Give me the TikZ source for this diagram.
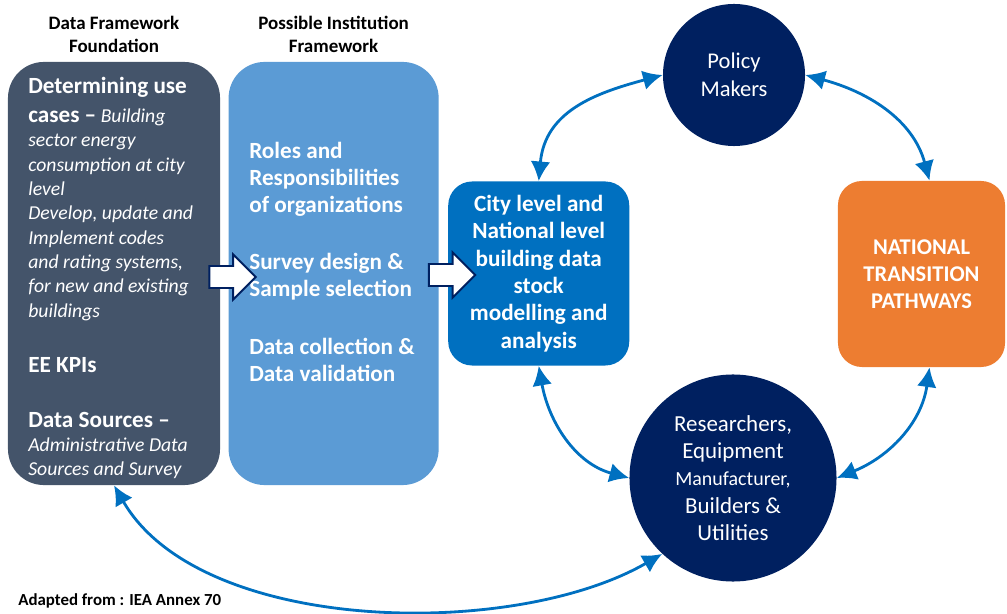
\documentclass[tikz,border=0pt]{standalone}
\usepackage{fontspec}
\setmainfont{Carlito}
\usepackage{xcolor}
\usetikzlibrary{arrows.meta, positioning, calc, shapes.arrows}
\definecolor{slate}{HTML}{44546A}
\definecolor{skyblue}{HTML}{5B9BD5}
\definecolor{cityblue}{HTML}{0070C0}
\definecolor{navy}{HTML}{002060}
\definecolor{orangebox}{HTML}{ED7D31}
\definecolor{linkblue}{HTML}{0070C0}
\newcommand{\headtxt}[1]{{\fontsize{16.5}{20}\selectfont\bfseries\upshape #1}}

\begin{document}
\begin{tikzpicture}[x=0.025cm,y=0.025cm,every node/.style={inner sep=0pt},
  panel/.style={rounded corners=0.9cm,minimum width=5.3cm,minimum height=10.575cm},
  roundbox/.style={rounded corners=0.6cm,text=white,align=center,
        font=\fontsize{16.5}{19.5}\selectfont\bfseries},
  disc/.style={circle,fill=navy,text=white,align=center},
  blockarrow/.style={single arrow,draw=navy,fill=white,line width=1.4pt,inner xsep=0pt,
        inner ysep=0.25cm,minimum height=1.16cm,single arrow head extend=0.29cm},
  link/.style={<->,>={Latex[length=14pt,width=14pt]},draw=linkblue,line width=2pt}]
  \useasboundingbox (0,0) rectangle (1007,613);

  \node[panel,fill=slate] (fdn) at (114,339.5) {};
  \node[panel,fill=skyblue,minimum width=5.25cm,right=0.2cm of fdn] (inst) {};
  \node[roundbox,fill=cityblue,minimum width=4.525cm,minimum height=4.6cm,
        right=0.225cm of inst] (city) {City level and\\National level\\building data\\stock\\modelling and\\analysis};
  \node[roundbox,fill=orangebox,minimum width=4.175cm,minimum height=4.65cm,
        font=\fontsize{16}{19.2}\selectfont\bfseries] (nat) at (921.5,339) {NATIONAL\\TRANSITION\\PATHWAYS};
  \node[disc,minimum size=3.55cm,font=\fontsize{16}{20}\selectfont] (policy) at (734,538) {Policy\\Makers};
  \node[disc,minimum size=5.175cm,font=\fontsize{16.3}{19.5}\selectfont] (res) at (733,135)
        {Researchers,\\Equipment\\{\fontsize{14.2}{19.5}\selectfont Manufacturer,}\\Builders \&\\Utilities};

  \node[align=center,font=\fontsize{13.5}{16.4}\selectfont\bfseries,above=0.22cm of fdn] (fdntitle) {Data Framework\\Foundation};
  \node[align=center,font=\fontsize{13.5}{16.4}\selectfont\bfseries,above=0.22cm of inst] (insttitle) {Possible Institution\\Framework};

  \node[anchor=north west,align=left,text=white,font=\fontsize{14}{17.3}\selectfont\itshape] (fdntext) at (28,536) {%
    \headtxt{Determining use}\\[3.3pt]
    \headtxt{cases --} Building\\
    sector energy\\
    consumption at city\\
    level\\
    Develop, update and\\
    Implement codes\\
    and rating systems,\\
    for new and existing\\
    buildings\\[21.8pt]
    \headtxt{EE KPIs}\\[21.8pt]
    \headtxt{Data Sources --}\\
    Administrative Data\\
    Sources and Survey};
  \node[anchor=north west,align=left,text=white,font=\fontsize{16.5}{19.2}\selectfont\bfseries] (insttext) at (249,471)
        {Roles and\\Responsibilities\\of organizations\\[21.5pt]Survey design \&\\Sample selection\\[21.5pt]Data collection \&\\Data validation};

  \node[blockarrow] (arrA) at (227,336) {};
  \node[blockarrow] (arrB) at (446.5,338) {};

  \draw[link] (city.north) to[out=85,in=195,looseness=1.1] (policy.west);
  \draw[link] (policy.east) to[out=-15,in=105] ([xshift=0.2cm]nat.north);
  \draw[link] (city.south) to[out=-80,in=165] (res.west);
  \draw[link] ([xshift=0.2cm]nat.south) to[out=-98,in=22] (res.east);
  \draw[link] (fdn.south) to[out=-60,in=210,looseness=0.8] (res.227);

  \node[anchor=base west,font=\fontsize{12}{14}\selectfont\bfseries] (note) at (18,8) {Adapted from : IEA Annex 70};
\end{tikzpicture}
\end{document}
